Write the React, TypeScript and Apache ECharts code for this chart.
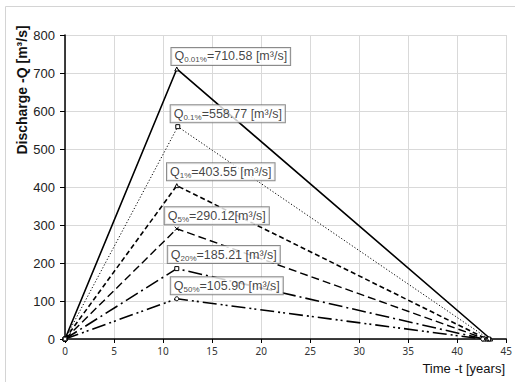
import React, { useEffect, useRef } from "react";
import * as echarts from "echarts";

const seriesNames = ["0.01%", "0.1%", "1%", "5%", "20%", "50%"];
const peakTime = [11.4, 11.5, 11.4, 11.4, 11.4, 11.4];
const peakQ = [710.58, 558.77, 403.55, 290.12, 185.21, 105.9];
const endTime = [43.4, 43.2, 43.0, 42.9, 42.7, 42.6];
const peakText = ["710.58 [m³/s]", "558.77 [m³/s]", "403.55 [m³/s]", "290.12[m³/s]", "185.21 [m³/s]", "105.90 [m³/s]"];

const lineTypes: any[] = ["solid", [1.2, 2], [5, 3], [8, 4], [14, 4, 2, 4], [14, 4, 2, 3, 2, 4]];
const lineWidths = [1.6, 1, 1.6, 1.4, 1.6, 1.6];
const symbols = [
  "triangle",
  "rect",
  "triangle",
  "path://M0,0L10,10M10,0L0,10",
  "path://M0,4L10,4L10,6L0,6Z",
  "circle",
];
const labelOffsets: [number, number][] = [[54, -12.5], [50, -13], [44, -14], [40, -13], [47, -14], [50, -13]];

export default function App() {
  const ref = useRef<HTMLDivElement>(null);
  useEffect(() => {
    const chart = echarts.init(ref.current!, undefined, { renderer: "svg" });
    const lineSeries = seriesNames.map((name, i) => ({
      name,
      type: "line",
      symbol: symbols[i],
      symbolSize: 4,
      showAllSymbol: true,
      itemStyle: { color: "#fff", borderColor: "#000", borderWidth: 1 },
      lineStyle: { color: "#000", width: lineWidths[i], type: lineTypes[i] },
      z: 3,
      data: [
        [0, 0],
        [peakTime[i], peakQ[i]],
        [endTime[i], 0],
      ],
    }));
    const labelSeries = {
      name: "labels",
      type: "scatter",
      symbolSize: 0,
      z: 50,
      silent: true,
      data: seriesNames.map((name, i) => ({
        value: [peakTime[i], peakQ[i]],
        label: {
          show: true,
          position: "inside",
          align: "center",
          verticalAlign: "middle",
          offset: labelOffsets[i],
          formatter: `{q|Q}{s|${name}}{t|=${peakText[i]}}`,
          backgroundColor: "#fff",
          borderColor: "#6e6e6e",
          borderWidth: 1,
          padding: [1, 3, 1, 3],
          rich: {
            q: { fontSize: 12.5, fontFamily: "Liberation Sans", color: "#111", lineHeight: 15, verticalAlign: "middle" },
            s: { fontSize: 8, fontFamily: "Liberation Sans", color: "#111", lineHeight: 15, padding: [7, 0, 0, 0], verticalAlign: "bottom" },
            t: { fontSize: 12.5, fontFamily: "Liberation Sans", color: "#111", lineHeight: 15, verticalAlign: "middle" },
          },
        },
      })),
    };
    chart.setOption({
      animation: false,
      backgroundColor: "#fff",
      grid: { left: 65, right: 4, top: 35, bottom: 43 },
      xAxis: {
        type: "value",
        min: 0,
        max: 45,
        interval: 5,
        axisLine: { show: true, onZero: false, lineStyle: { color: "#000", width: 1.5 } },
        axisTick: { show: true, length: 4, lineStyle: { color: "#000" } },
        axisLabel: { fontSize: 10, fontFamily: "Noto Sans", color: "#333", margin: 7 },
        splitLine: { show: true, lineStyle: { color: "#d9d9d9", width: 1 } },
      },
      yAxis: {
        type: "value",
        min: 0,
        max: 800,
        interval: 100,
        axisLine: { show: true, lineStyle: { color: "#000", width: 1.5 } },
        axisTick: { show: true, length: 5, lineStyle: { color: "#000" } },
        axisLabel: { fontSize: 13, fontFamily: "Liberation Sans", color: "#222", margin: 10 },
        splitLine: { show: true, lineStyle: { color: "#d9d9d9", width: 1 } },
      },
      graphic: [
        {
          type: "rect",
          z: -10,
          shape: { x: 5.5, y: 6.5, width: 600, height: 500 },
          style: { fill: "none", stroke: "#d4d4d4", lineWidth: 1 },
        },
        {
          type: "text",
          x: 22,
          y: 90,
          rotation: Math.PI / 2,
          style: {
            text: "Discharge -Q [m³/s]",
            fontSize: 14,
            fontWeight: "bold",
            fontFamily: "Liberation Sans",
            fill: "#111",
            align: "center",
            verticalAlign: "middle",
          },
        },
        {
          type: "text",
          x: 505,
          y: 368,
          style: {
            text: "Time -t [years]",
            fontSize: 13,
            fontFamily: "Liberation Sans",
            fill: "#111",
            align: "right",
            verticalAlign: "middle",
          },
        },
      ],
      series: [...lineSeries, labelSeries],
    });
    return () => chart.dispose();
  }, []);
  return <div ref={ref} style={{ position: "fixed", left: 0, top: 0, width: 515, height: 382 }} />;
}
